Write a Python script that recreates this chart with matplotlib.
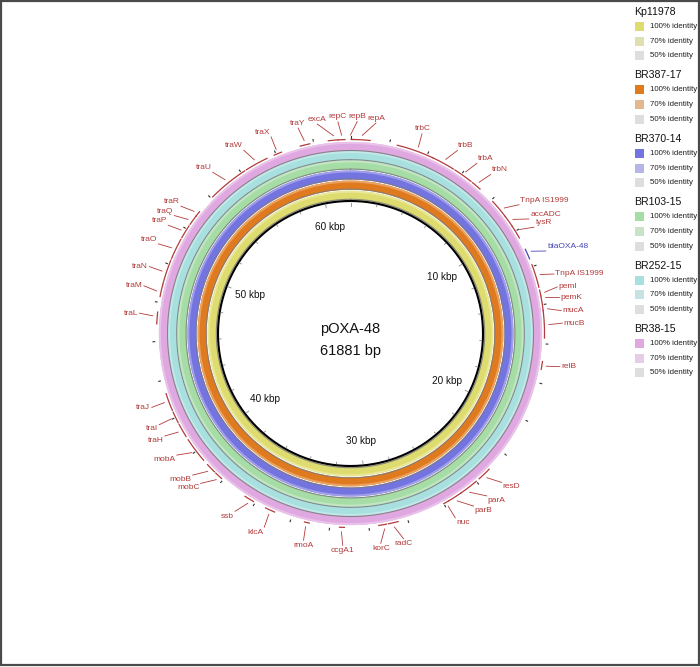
import matplotlib

matplotlib.use("Agg")

import matplotlib.pyplot as plt
import numpy as np
from matplotlib.colors import to_rgb
from matplotlib.patches import Rectangle

plt.rcParams["font.family"] = ["Liberation Sans", "DejaVu Sans"]

# plasmid
plasmid_name = "pOXA-48"
plasmid_len = 61881
kbp_marks = [10, 20, 30, 40, 50, 60]

# BLAST rings, inside -> outside
strains = ["Kp11978", "BR387-17", "BR370-14", "BR103-15", "BR252-15", "BR38-15"]
colors_100 = ["#dedc6e", "#e07a1e", "#7474e0", "#a6dca6", "#a8e0e0", "#e0a8e0"]
colors_70 = ["#e0dfb2", "#e2b88e", "#b6b6e6", "#c8e4c8", "#c6e2e2", "#e6cce6"]
color_50 = "#dedede"
identity_labels = ["100% identity", "70% identity", "50% identity"]

# annotated genes (bp)
gene_names = [
    "repA", "repB", "repC", "excA", "traY", "traX", "traW", "traU", "traR", "traQ",
    "traP", "traO", "traN", "traM", "traL", "traJ", "traI", "traH", "mobA", "mobB",
    "mobC", "ssb", "klcA", "rmoA", "ccgA1", "korC", "radC", "nuc", "parB", "parA",
    "resD", "relB", "mucB", "mucA", "pemK", "pemI", "TnpA IS1999", "blaOXA-48",
    "lysR", "accADC", "TnpA IS1999", "trbN", "trbA", "trbB", "trbC",
]
gene_start = [
    150, 30, 61250, 60750, 59300, 57900, 56300, 54100, 52800, 52300,
    51500, 50300, 48900, 48300, 46900, 42400, 41700, 40900, 39400, 38600,
    38100, 36100, 34900, 33050, 31250, 29100, 28500, 25700, 25000, 24000,
    23100, 16900, 14300, 13900, 13550, 13250, 11900, 11050,
    9700, 9100, 8100, 6700, 5600, 4300, 2400,
]
gene_end = [
    1000, 150, 61600, 61250, 59800, 58300, 57500, 56200, 53100, 52800,
    52200, 51400, 50200, 48900, 47500, 43300, 42300, 41600, 40700, 39100,
    38500, 36600, 35400, 33300, 31500, 29500, 29000, 26000, 25700, 25000,
    23800, 17300, 15700, 14300, 13850, 13550, 13100, 11580,
    10400, 9700, 9100, 7200, 6600, 5500, 4300,
]
gene_hit = [
    585, 0, 61440, 61040, 59560, 58100, 56900, 55140, 52940, 52440,
    51810, 50810, 49560, 48540, 47290, 42910, 42030, 41290, 40070, 38850,
    38260, 36300, 35120, 33190, 31390, 29240, 28740, 25870, 25350, 24600,
    23480, 17100, 15030, 14240, 13680, 13410, 12500, 11260,
    10040, 9440, 8730, 6940, 6100, 4930, 3440,
]
label_deg = [
    6.9, 1.8, -3.4, -9.0, -14.3, -22.0, -30.2, -40.5, -53.1, -56.2,
    -59.3, -65.0, -71.6, -77.0, -84.5, -110.4, -115.5, -118.9, -125.0, -131.9,
    -135.0, -147.0, -156.0, -167.2, -177.9, 171.8, 165.5, 150.4, 144.5, 140.0,
    134.6, 99.0, 87.2, 83.8, 80.2, 77.3, 73.7, 67.1,
    59.9, 57.3, 52.6, 41.4, 36.6, 30.3, 19.7,
]

LABEL_RED = "#b23a3a"
LABEL_BLUE = "#4646b4"

W, H, DPI = 700, 667, 100
CX, CY = 350.5, 333.5
RMAX = 260


def bp2rad(bp):
    return np.asarray(bp, dtype=float) / plasmid_len * 2 * np.pi


def lighten(color, amount):
    c = np.array(to_rgb(color))
    return tuple(c + (1 - c) * amount)


fig = plt.figure(figsize=(W / DPI, H / DPI), dpi=DPI)

# background / legend layer in pixel coordinates
bg = fig.add_axes([0, 0, 1, 1])
bg.set_xlim(0, W)
bg.set_ylim(H, 0)
bg.axis("off")
bg.add_patch(Rectangle((0.8, 0.8), W - 2.2, H - 2.6, fill=False, edgecolor="#4a4a4a", linewidth=1.6))

# polar layer for the map
ax = fig.add_axes(
    [(CX - RMAX) / W, (H - CY - RMAX) / H, 2 * RMAX / W, 2 * RMAX / H],
    projection="polar",
)
ax.set_theta_zero_location("N")
ax.set_theta_direction(-1)
ax.set_ylim(0, RMAX)
ax.axis("off")
ax.patch.set_alpha(0)

# rings
r_black = 132.5
ring_inner = [133.8, 143.9, 154.0, 164.0, 173.4, 182.6]
ring_w = 9.0
theta_full = np.linspace(0, 2 * np.pi, 721)
for r0, col in zip(ring_inner, colors_100):
    ax.bar(0, ring_w, width=2 * np.pi, bottom=r0, color=col, linewidth=0, align="edge")
    ax.bar(0, ring_w * 0.22, width=2 * np.pi, bottom=r0 + ring_w * 0.78, color=lighten(col, 0.3),
           linewidth=0, align="edge")
    ax.plot(theta_full, np.full_like(theta_full, r0 + 0.4), color="#7a7a7a", linewidth=0.8, alpha=0.85)

ax.plot(theta_full, np.full_like(theta_full, r_black), color="black", linewidth=1.5)

# ticks
tick_bp = np.arange(0, plasmid_len, 2000)
for bp in tick_bp:
    t = bp2rad(bp)
    inner = 128 if bp % 10000 == 0 else 129.5
    ax.plot([t, t], [inner, 131], color="#9a9a9a", linewidth=0.7)
    ax.plot([t, t], [196.0, 197.6], color="#333333", linewidth=0.8)

for k in kbp_marks:
    ax.text(bp2rad(k * 1000), 108, f"{k} kbp", ha="center", va="center", fontsize=7.2, color="#111111")

# genes
for name, s, e, hit, ldeg in zip(gene_names, gene_start, gene_end, gene_hit, label_deg):
    col = LABEL_BLUE if name.startswith("bla") else LABEL_RED
    th = np.linspace(bp2rad(s), bp2rad(e), 40)
    ax.plot(th, np.full_like(th, 194.0), color=col, linewidth=0.9)
    lt = np.deg2rad(ldeg)
    ax.plot([bp2rad(hit), lt], [198.5, 212.0], color=col, linewidth=0.6)
    sx, cy = np.sin(lt), np.cos(lt)
    ha = "left" if sx > 0.35 else ("right" if sx < -0.35 else "center")
    va = "bottom" if cy > 0.35 else ("top" if cy < -0.35 else "center")
    ax.text(lt, 213.5, name, ha=ha, va=va, fontsize=6, color=col)

# center title
bg.text(CX, 329, plasmid_name, ha="center", va="center", fontsize=10.5, color="#111111")
bg.text(CX, 351, f"{plasmid_len} bp", ha="center", va="center", fontsize=10.5, color="#111111")

# legend
for i, (name, c100, c70) in enumerate(zip(strains, colors_100, colors_70)):
    y0 = 12 + i * 63.4
    bg.text(634, y0, name, ha="left", va="center", fontsize=7.6, color="#111111")
    for j, (sw, lab) in enumerate(zip([c100, c70, color_50], identity_labels)):
        yy = y0 + 14.5 + j * 14.7
        bg.add_patch(Rectangle((634.5, yy - 4.5), 9, 9, facecolor=sw, edgecolor="none"))
        bg.text(650, yy, lab, ha="left", va="center", fontsize=5.7, color="#222222")

fig.savefig("out.png", dpi=DPI)
plt.close(fig)
